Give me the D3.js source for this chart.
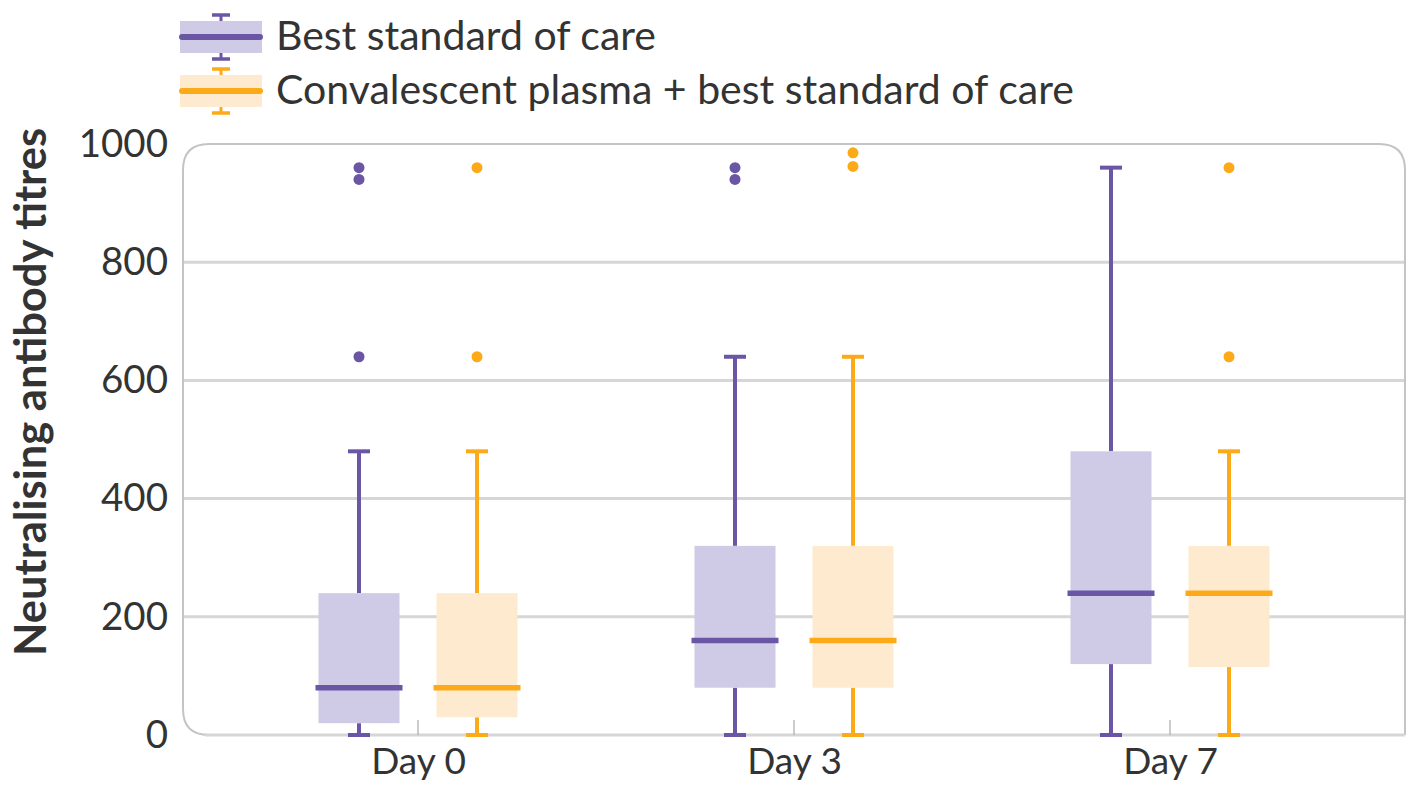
<!DOCTYPE html>
<html><head><meta charset="utf-8">
<script src="https://cdn.jsdelivr.net/npm/d3@7"></script>
<style>body{margin:0;background:#fff;} svg{display:block;font-family:Lato, "Open Sans", sans-serif;}</style>
</head><body>
<svg id="chart" width="1411" height="785"></svg>
<script>
const days = ["Day 0", "Day 3", "Day 7"];
const groups = ["Best standard of care", "Convalescent plasma + best standard of care"];
const yTicks = [0, 200, 400, 600, 800, 1000];
// [whiskerLow, Q1, median, Q3, whiskerHigh] per day
const careStats = [[0, 20, 80, 240, 480], [0, 80, 160, 320, 640], [0, 120, 240, 480, 960]];
const plasmaStats = [[0, 30, 80, 240, 480], [0, 80, 160, 320, 640], [0, 115, 240, 320, 480]];
const careOutliers = [[960, 940, 640], [960, 940], []];
const plasmaOutliers = [[960, 640], [985, 962], [960, 640]];

const colors = {line: ["#6b55a5", "#fdaa19"], fill: ["#cfcae6", "#feebcf"]};

const svg = d3.select("#chart");
const L = 183, R = 1405, T = 144, B = 735;
const x = d3.scalePoint().domain(days).range([L, R]).padding(0.625);
const y = d3.scaleLinear().domain([0, 1000]).range([B, T]);
const off = d3.scaleOrdinal().domain(groups).range([-59, 59]);
const boxW = 81;

// gridlines
svg.append("g").selectAll("line").data(yTicks.filter(d => d > 0 && d < 1000)).join("line")
  .attr("x1", L).attr("x2", R).attr("y1", d => y(d)).attr("y2", d => y(d))
  .attr("stroke", "#d6d6d6").attr("stroke-width", 3);

// frame (rounded)
const r = 26;
svg.append("path")
  .attr("d", `M${L},${y(1000)+r} L${L},${B-r} Q${L},${B} ${L+r},${B} M${L},${y(1000)+r} Q${L},${y(1000)} ${L+r},${y(1000)} L${R-r},${y(1000)} Q${R},${y(1000)} ${R},${y(1000)+r} L${R},${B}`)
  .attr("fill", "none").attr("stroke", "#c4c4c4").attr("stroke-width", 2);
svg.append("line").attr("x1", L + r - 4).attr("x2", R).attr("y1", B).attr("y2", B)
  .attr("stroke", "#d6d6d6").attr("stroke-width", 3);

// category ticks
svg.append("g").selectAll("line").data(days).join("line")
  .attr("x1", d => x(d)).attr("x2", d => x(d)).attr("y1", B - 15).attr("y2", B)
  .attr("stroke", "#aaa").attr("stroke-width", 1.2);

// y axis labels
const yAxis = d3.axisLeft(y).tickValues(yTicks).tickSize(0).tickPadding(0).tickFormat(d3.format("d"));
const ya = svg.append("g").attr("transform", `translate(${L - 15},0)`).call(yAxis);
ya.select(".domain").remove();
ya.selectAll("text").attr("font-size", 38.5).attr("fill", "#333").attr("font-family", "Lato, sans-serif");

// x axis labels
const xAxis = d3.axisBottom(x).tickSize(0).tickPadding(0);
const xa = svg.append("g").attr("transform", `translate(0,${B + 13})`).call(xAxis);
xa.select(".domain").remove();
xa.selectAll("text").attr("font-size", 37).attr("fill", "#333").attr("font-family", "Lato, sans-serif");

// y title
svg.append("text").attr("transform", `translate(46,392) rotate(-90)`)
  .attr("text-anchor", "middle").attr("font-size", 43.5).attr("font-weight", "bold").attr("fill", "#333")
  .text("Neutralising antibody titres");

// boxes
const allStats = [careStats, plasmaStats];
const allOut = [careOutliers, plasmaOutliers];
groups.forEach((g, gi) => {
  const gg = svg.append("g");
  days.forEach((d, di) => {
    const [lo, q1, med, q3, hi] = allStats[gi][di];
    const cx = x(d) + off(g);
    gg.append("line").attr("x1", cx).attr("x2", cx).attr("y1", y(lo)).attr("y2", y(q1))
      .attr("stroke", colors.line[gi]).attr("stroke-width", 4);
    gg.append("line").attr("x1", cx).attr("x2", cx).attr("y1", y(q3)).attr("y2", y(hi))
      .attr("stroke", colors.line[gi]).attr("stroke-width", 4);
    [lo, hi].forEach(v => gg.append("line").attr("x1", cx - 11).attr("x2", cx + 11).attr("y1", y(v)).attr("y2", y(v))
      .attr("stroke", colors.line[gi]).attr("stroke-width", 4));
    gg.append("rect").attr("x", cx - boxW / 2).attr("width", boxW).attr("y", y(q3)).attr("height", y(q1) - y(q3))
      .attr("fill", colors.fill[gi]);
    gg.append("line").attr("x1", cx - boxW / 2 - 3).attr("x2", cx + boxW / 2 + 3).attr("y1", y(med)).attr("y2", y(med))
      .attr("stroke", colors.line[gi]).attr("stroke-width", 5.5);
    gg.selectAll(null).data(allOut[gi][di]).join("circle")
      .attr("cx", cx).attr("cy", v => y(v)).attr("r", 5.5).attr("fill", colors.line[gi]);
  });
});

// legend
const leg = svg.append("g");
groups.forEach((g, gi) => {
  const cy = 37 + gi * 54, x0 = 180, x1 = 262, xc = (x0 + x1) / 2;
  leg.append("rect").attr("x", x0).attr("y", cy - 16).attr("width", x1 - x0).attr("height", 32).attr("fill", colors.fill[gi]);
  leg.append("line").attr("x1", xc).attr("x2", xc).attr("y1", cy - 22).attr("y2", cy - 16).attr("stroke", colors.line[gi]).attr("stroke-width", 3);
  leg.append("line").attr("x1", xc).attr("x2", xc).attr("y1", cy + 16).attr("y2", cy + 22).attr("stroke", colors.line[gi]).attr("stroke-width", 3);
  leg.append("line").attr("x1", xc - 9).attr("x2", xc + 9).attr("y1", cy - 22).attr("y2", cy - 22).attr("stroke", colors.line[gi]).attr("stroke-width", 3.5);
  leg.append("line").attr("x1", xc - 9).attr("x2", xc + 9).attr("y1", cy + 22).attr("y2", cy + 22).attr("stroke", colors.line[gi]).attr("stroke-width", 3.5);
  leg.append("line").attr("x1", x0 + 2).attr("x2", x1 - 2).attr("y1", cy).attr("y2", cy).attr("stroke", colors.line[gi]).attr("stroke-width", 6).attr("stroke-linecap", "round");
  leg.append("text").attr("x", 276).attr("y", cy + 13).attr("font-size", 41).attr("fill", "#333").text(g);
});
</script>
</body></html>
